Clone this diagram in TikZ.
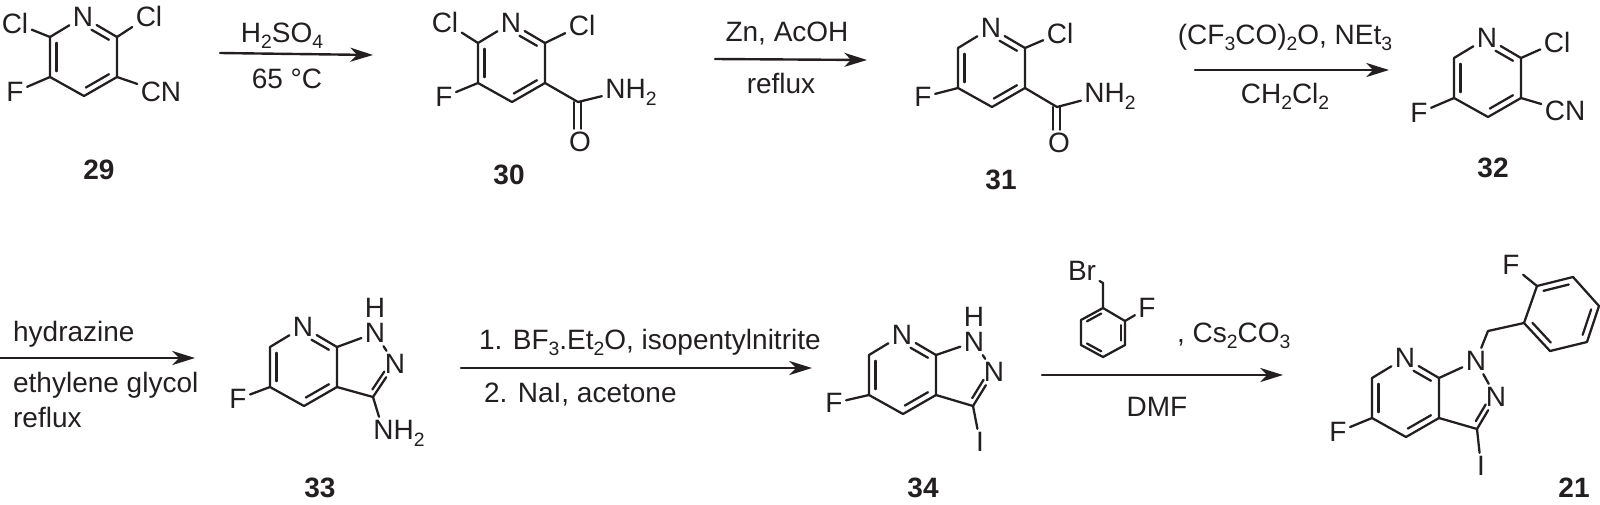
\documentclass[tikz,border=0pt]{standalone}
\usepackage{xcolor}
\usepackage{fontspec}
\usepackage{tikz}
\usetikzlibrary{calc,arrows.meta}
\setmainfont{Liberation Sans}
\definecolor{inkdark}{HTML}{231F20}
\newcommand{\chemsub}[1]{\raisebox{-5pt}{\fontsize{14.5}{15}\selectfont #1}}
\newcommand{\innerbond}[4]{\draw [shorten <=#4pt,shorten >=1.5pt] ($(#1)!0.19!(#3)$) -- ($(#2)!0.19!(#3)$) ;}
\newcommand{\pyridine}[3]{%
\coordinate (#1c6) at (#2,#3) ;
\coordinate (#1c5) at (#2,#3+40) ;
\coordinate (#1c4) at (#2+34,#3+59) ;
\coordinate (#1c3) at (#2+67,#3+40) ;
\coordinate (#1c2) at (#2+67,#3) ;
\coordinate (#1v) at (#2+34,#3-19) ;
\coordinate (#1o) at (#2+34,#3+20) ;
\draw (#2+33,#3-20) node (#1n) [atom] {N};
\draw (#1n) -- (#1c2) -- (#1c3) -- (#1c4) -- (#1c5) -- (#1c6) -- (#1n) ;
\innerbond{#1c5}{#1c6}{#1o}{1.5}
\innerbond{#1v}{#1c2}{#1o}{6.5}
\innerbond{#1c3}{#1c4}{#1o}{1.5}
}
\tikzset{
  atom/.style={inner sep=1.8pt,text depth=0pt,font=\fontsize{21}{25}\selectfont},
  reagent/.style={inner sep=0pt,anchor=base,font=\fontsize{21}{25}\selectfont},
  cmpd/.style={inner sep=0pt,anchor=base,font=\fontsize{21}{25}\selectfont\bfseries},
  rxn/.style={line width=1.8pt,-{Stealth[length=17pt,width=10.5pt,inset=5pt]}},
}
\begin{document}
\begin{tikzpicture}[x=0.75pt,y=0.75pt,yscale=-1,xscale=1,color=inkdark,every path/.append style={line width=1.7pt,line join=round,line cap=round}]
\useasboundingbox (0,0) rectangle (1600,504) ;

\pyridine{r29}{50}{37}
\draw (15,23) node (r29cla) [atom] {Cl};
\draw (149,16) node (r29clb) [atom] {Cl};
\draw (15,92) node (r29f) [atom] {F};
\draw (161,92) node (r29cn) [atom] {CN};
\draw (r29c6) -- (r29cla) ;
\draw (r29c2) -- (r29clb) ;
\draw (r29c5) -- (r29f) ;
\draw (r29c3) -- (r29cn) ;
\draw (99,179) node (l29) [cmpd] {29};

\coordinate (a1s) at (220,53) ;
\coordinate (a1e) at (373,55) ;
\draw [rxn] (a1s) -- (a1e) ;
\draw (282,42) node (t1a) [reagent] {H\chemsub{2}SO\chemsub{4}};
\draw (287,88) node (t1b) [reagent] {65 °C};

\pyridine{r30}{478}{43}
\draw (445,22) node (r30cla) [atom] {Cl};
\draw (582,25) node (r30clb) [atom] {Cl};
\draw (444,97) node (r30f) [atom] {F};
\coordinate (r30co) at (578,102) ;
\draw (631,89) node (r30nh) [atom] {NH\chemsub{2}};
\draw (580,142) node (r30ox) [atom] {O};
\draw (r30c6) -- (r30cla) ;
\draw (r30c2) -- (r30clb) ;
\draw (r30c5) -- (r30f) ;
\draw (r30c3) -- (r30co) -- (r30nh) ;
\draw ([xshift=-3pt]r30co) -- ([xshift=-3pt]r30ox.north -| r30co) ;
\draw ([xshift=2pt]r30co) -- ([xshift=2pt]r30ox.north -| r30co) ;
\draw (509,184) node (l30) [cmpd] {30};

\coordinate (a2s) at (715,59) ;
\coordinate (a2e) at (867,60) ;
\draw [rxn] (a2s) -- (a2e) ;
\draw (787,41) node (t2a) [reagent] {Zn, AcOH};
\draw (781,93) node (t2b) [reagent] {reflux};

\pyridine{r31}{958}{48}
\draw (1060,33) node (r31cl) [atom] {Cl};
\draw (923,97) node (r31f) [atom] {F};
\coordinate (r31co) at (1057,107) ;
\draw (1110,93) node (r31nh) [atom] {NH\chemsub{2}};
\draw (1059,143) node (r31ox) [atom] {O};
\draw (r31c2) -- (r31cl) ;
\draw (r31c5) -- (r31f) ;
\draw (r31c3) -- (r31co) -- (r31nh) ;
\draw ([xshift=-3pt]r31co) -- ([xshift=-3pt]r31ox.north -| r31co) ;
\draw ([xshift=2pt]r31co) -- ([xshift=2pt]r31ox.north -| r31co) ;
\draw (1001,189) node (l31) [cmpd] {31};

\coordinate (a3s) at (1195,70) ;
\coordinate (a3e) at (1389,70) ;
\draw [rxn] (a3s) -- (a3e) ;
\draw (1285,44) node (t3a) [reagent] {(CF\chemsub{3}CO)\chemsub{2}O, NEt\chemsub{3}};
\draw (1285,103) node (t3b) [reagent] {CH\chemsub{2}Cl\chemsub{2}};

\pyridine{r32}{1454}{58}
\draw (1557,42) node (r32cl) [atom] {Cl};
\draw (1419,113) node (r32f) [atom] {F};
\draw (1565,111) node (r32cn) [atom] {CN};
\draw (r32c2) -- (r32cl) ;
\draw (r32c5) -- (r32f) ;
\draw (r32c3) -- (r32cn) ;
\draw (1493,177) node (l32) [cmpd] {32};

\coordinate (a4s) at (0,358) ;
\coordinate (a4e) at (195,358) ;
\draw [rxn] (a4s) -- (a4e) ;
\draw (12,341) node (t4a) [reagent,anchor=base west] {hydrazine};
\draw (12,392) node (t4b) [reagent,anchor=base west] {ethylene glycol};
\draw (12,427) node (t4c) [reagent,anchor=base west] {reflux};

\pyridine{r33}{270}{347}
\draw (238,399) node (r33f) [atom] {F};
\draw (375,333) node (r33na) [atom] {N};
\draw (375,308) node (r33h) [atom] {H};
\draw (395,364) node (r33nb) [atom] {N};
\coordinate (r33cc) at (373,397) ;
\coordinate (r33pz) at (364,366) ;
\draw (399,430) node (r33nh) [atom] {NH\chemsub{2}};
\draw (r33c5) -- (r33f) ;
\draw (r33c2) -- (r33na) -- (r33nb) -- (r33cc) -- (r33c3) ;
\draw (r33cc) -- (r33nh.north -| 379,0) ;
\innerbond{r33nb}{r33cc}{r33pz}{6.5}
\draw (320,497) node (l33) [cmpd] {33};

\coordinate (a5s) at (461,368) ;
\coordinate (a5e) at (812,368) ;
\draw [rxn] (a5s) -- (a5e) ;
\draw (478,349) node (t5a) [reagent,anchor=base west] {1. BF\chemsub{3}.Et\chemsub{2}O, isopentylnitrite};
\draw (483,402) node (t5b) [reagent,anchor=base west] {2. NaI, acetone};

\pyridine{r34}{869}{355}
\draw (834,403) node (r34f) [atom] {F};
\draw (974,342) node (r34na) [atom] {N};
\draw (974,317) node (r34h) [atom] {H};
\draw (994,372) node (r34nb) [atom] {N};
\coordinate (r34cc) at (973,406) ;
\coordinate (r34pz) at (963,374) ;
\draw (980,442) node (r34i) [atom] {I};
\draw (r34c5) -- (r34f) ;
\draw (r34c2) -- (r34na) -- (r34nb) -- (r34cc) -- (r34c3) ;
\draw (r34cc) -- (r34i) ;
\innerbond{r34nb}{r34cc}{r34pz}{6.5}
\draw (923,497) node (l34) [cmpd] {34};

\coordinate (bb1) at (1103,308) ;
\coordinate (bb2) at (1125,321) ;
\coordinate (bb3) at (1125,345) ;
\coordinate (bb4) at (1103,357) ;
\coordinate (bb5) at (1081,345) ;
\coordinate (bb6) at (1081,320) ;
\coordinate (bbo) at (1103,332) ;
\coordinate (bbch) at (1103,283) ;
\draw (1082,271) node (bbbr) [atom] {Br};
\draw (1147,308) node (bbf) [atom] {F};
\draw (bb1) -- (bb2) -- (bb3) -- (bb4) -- (bb5) -- (bb6) -- cycle ;
\innerbond{bb6}{bb1}{bbo}{1.5}
\innerbond{bb2}{bb3}{bbo}{1.5}
\innerbond{bb4}{bb5}{bbo}{1.5}
\draw (bbbr) -- (bbch) -- (bb1) ;
\draw (bb2) -- (bbf) ;
\draw (1176,342) node (t6a) [reagent,anchor=base west] {, Cs\chemsub{2}CO\chemsub{3}};

\coordinate (a6s) at (1042,375) ;
\coordinate (a6e) at (1283,375) ;
\draw [rxn] (a6s) -- (a6e) ;
\draw (1157,416) node (t6b) [reagent] {DMF};

\pyridine{r21}{1372}{378}
\draw (1338,432) node (r21f) [atom] {F};
\draw (1476,361) node (r21na) [atom] {N};
\draw (1496,397) node (r21nb) [atom] {N};
\coordinate (r21cc) at (1477,429) ;
\coordinate (r21pz) at (1465,397) ;
\draw (1481,466) node (r21i) [atom] {I};
\coordinate (r21ch) at (1488,331) ;
\coordinate (p1) at (1524,323) ;
\coordinate (p2) at (1537,286) ;
\coordinate (p3) at (1573,277) ;
\coordinate (p4) at (1599,306) ;
\coordinate (p5) at (1587,342) ;
\coordinate (p6) at (1550,351) ;
\coordinate (po) at (1561,314) ;
\draw (1511,265) node (r21fb) [atom] {F};
\draw (r21c5) -- (r21f) ;
\draw (r21c2) -- (r21na) -- (r21nb) -- (r21cc) -- (r21c3) ;
\draw (r21cc) -- (r21i) ;
\draw (r21na) -- (r21ch) -- (p1) ;
\draw (p1) -- (p2) -- (p3) -- (p4) -- (p5) -- (p6) -- cycle ;
\draw (p2) -- (r21fb) ;
\innerbond{p2}{p3}{po}{1.5}
\innerbond{p4}{p5}{po}{1.5}
\innerbond{p6}{p1}{po}{1.5}
\innerbond{r21nb}{r21cc}{r21pz}{6.5}
\draw (1574,497) node (l21) [cmpd] {21};
\end{tikzpicture}
\end{document}
